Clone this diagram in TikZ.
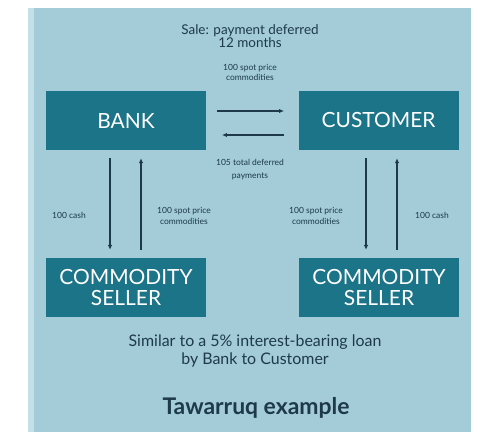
\documentclass[tikz,border=0pt]{standalone}
\usepackage{fontspec}
\setmainfont{Lato}
\usetikzlibrary{arrows.meta}
\definecolor{panel}{HTML}{A3CBD8}
\definecolor{paneledge}{HTML}{C3DFE8}
\definecolor{teal}{HTML}{1C7488}
\definecolor{ink}{HTML}{1E3A48}
\begin{document}
\begin{tikzpicture}[x=1bp,y=-1bp,
  ent/.style={fill=teal,text=white,minimum width=160bp,minimum height=59bp,inner sep=0pt,align=center,font=\fontsize{21}{22}\selectfont},
  lbl/.style={text=ink,align=center,inner sep=0pt,font=\fontsize{8.5}{11}\selectfont},
  arr/.style={draw=ink,line width=1.3pt,-{Latex[length=5pt,width=4.5pt]}}]
\useasboundingbox (0,0) rectangle (481,432);
\fill[white] (0,0) rectangle (481,432);
\fill[panel] (28,8) rectangle (471,432);
\fill[paneledge] (28,8) rectangle (34,432);
\node[ent] (bank) at (126,120.5) {BANK};
\node[ent] (cust) at (378.5,120.5) {CUSTOMER};
\node[ent] (cs1) at (126,287.5) {COMMODITY\\SELLER};
\node[ent] (cs2) at (379,287.5) {COMMODITY\\SELLER};
\node[text=ink,align=center,inner sep=0pt,font=\fontsize{13.5}{13}\selectfont] (sale) at (250,36) {Sale: payment deferred\\12 months};
\node[lbl,font=\fontsize{8.5}{10}\selectfont] (spot) at (250,72) {100 spot price\\commodities};
\node[lbl,font=\fontsize{8.5}{13}\selectfont] (defp) at (250,170) {105 total deferred\\payments};
\node[lbl] (cash1) at (69,215) {100 cash};
\node[lbl] (spot1) at (184,216) {100 spot price\\commodities};
\node[lbl] (spot2) at (316,216) {100 spot price\\commodities};
\node[lbl] (cash2) at (432,215) {100 cash};
\node[text=ink,align=center,inner sep=0pt,font=\fontsize{16}{19}\selectfont] (sim) at (255,351) {Similar to a 5\% interest-bearing loan\\by Bank to Customer};
\node[text=ink,inner sep=0pt,font=\bfseries\fontsize{23}{25}\selectfont] (title) at (256,408) {Tawarruq example};
\coordinate (r1) at (217,111); \coordinate (r2) at (284,111);
\coordinate (l1) at (284,135); \coordinate (l2) at (222,135);
\draw[arr] (r1) -- (r2);
\draw[arr] (l1) -- (l2);
\draw[arr,shorten <=8pt,shorten >=8pt] (bank.south -| 110,0) -- (cs1.north -| 110,0);
\draw[arr,shorten <=8pt,shorten >=8pt] (cs1.north -| 141,0) -- (bank.south -| 141,0);
\draw[arr,shorten <=8pt,shorten >=8pt] (cust.south -| 366,0) -- (cs2.north -| 366,0);
\draw[arr,shorten <=8pt,shorten >=8pt] (cs2.north -| 397,0) -- (cust.south -| 397,0);
\end{tikzpicture}
\end{document}
